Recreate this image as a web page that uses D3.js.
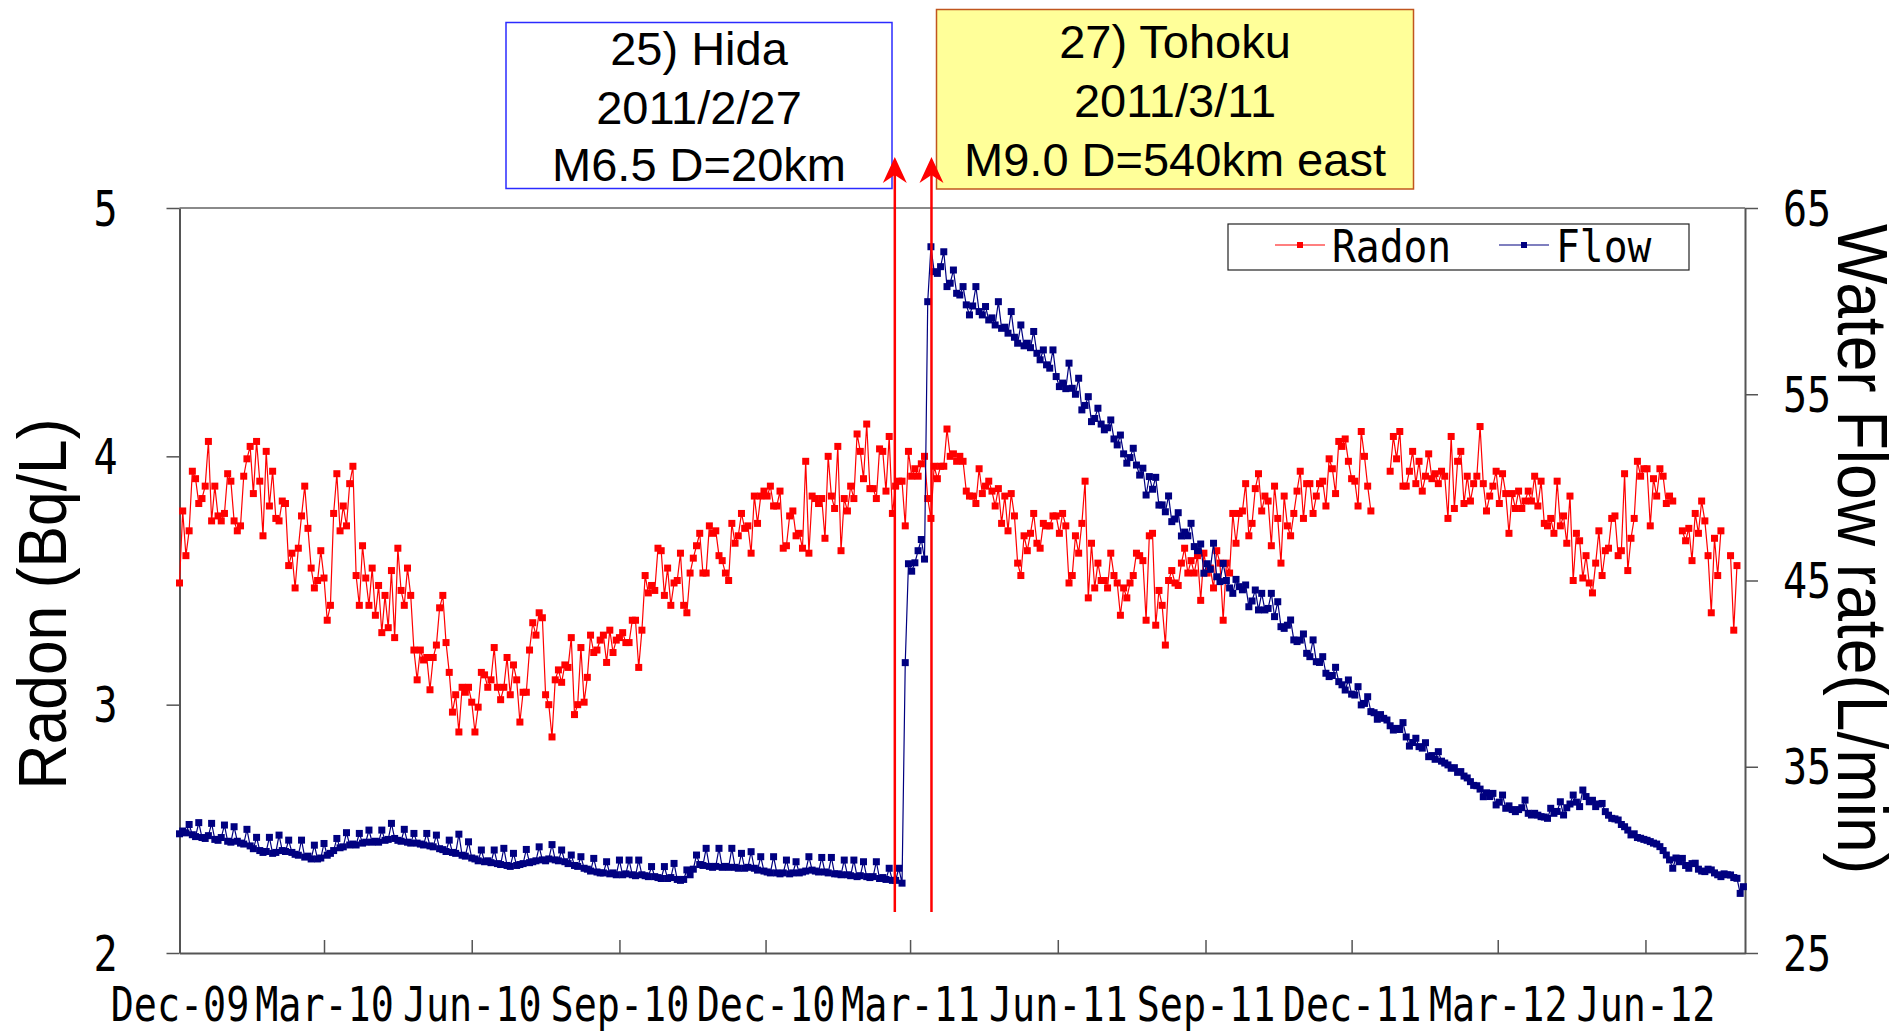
<!DOCTYPE html>
<html>
<head>
<meta charset="utf-8">
<script src="https://cdn.jsdelivr.net/npm/d3@7"></script>
<style>
html, body { margin:0; padding:0; background:#fff; }
svg { display:block; }
</style>
</head>
<body>
<div id="chart"></div>
<script>

// ---- data (one reading every 2 days starting 2009-12-01) ----
var startDate = "2009-12-01";
var stepDays = 2;

var radon = [
3.49,3.78,3.60,3.70,3.94,3.91,3.81,3.83,3.88,4.06,
3.74,3.88,3.76,3.74,3.77,3.93,3.90,3.74,3.70,3.72,
3.92,3.99,4.04,3.85,4.06,3.90,3.68,4.02,3.80,3.94,
3.75,3.74,3.82,3.81,3.56,3.61,3.47,3.63,3.76,3.88,
3.71,3.55,3.47,3.50,3.62,3.51,3.34,3.40,3.77,3.93,
3.70,3.80,3.72,3.89,3.96,3.52,3.40,3.64,3.51,3.40,
3.55,3.36,3.48,3.29,3.44,3.31,3.54,3.27,3.63,3.46,
3.40,3.55,3.44,3.22,3.10,3.22,3.18,3.19,3.06,3.19,
3.24,3.39,
3.44,3.25,3.13,2.97,3.04,2.89,3.07,3.05,3.07,3.01,
2.89,2.99,3.13,3.12,3.07,3.10,3.23,3.07,3.02,3.07,
3.19,3.04,3.16,3.10,2.93,3.05,3.05,3.22,3.33,3.28,
3.37,3.35,3.04,3.00,2.87,3.10,3.14,3.09,3.16,3.15,
3.27,2.96,3.00,3.23,3.01,3.11,3.28,3.21,3.22,3.26,
3.28,3.17,3.30,3.21,3.26,3.27,3.29,3.25,3.25,3.34,
3.34,3.15,3.30,3.52,3.45,3.48,3.46,3.63,3.62,3.44,
3.55,3.40,3.49,3.50,3.61,3.40,3.37,3.53,3.59,3.64,
3.69,3.53,
3.53,3.72,3.69,3.70,3.60,3.58,3.53,3.50,3.73,3.65,
3.68,3.77,3.71,3.72,3.61,3.84,3.73,3.84,3.86,3.84,
3.88,3.80,3.80,3.86,3.63,3.64,3.76,3.78,3.68,3.69,
3.63,3.98,3.61,3.84,3.83,3.81,3.83,3.67,4.00,3.84,
3.79,4.04,3.62,3.83,3.78,3.88,3.83,4.09,4.02,3.91,
4.13,3.87,3.87,3.83,4.03,4.02,3.86,4.08,3.77,3.88,
3.90,3.90,3.72,4.02,3.92,3.95,3.92,3.97,4.00,3.83,
3.75,3.96,3.91,3.96,3.96,4.11,4.00,4.01,3.98,4.00,
3.98,3.86,3.84,
3.84,3.81,3.95,3.85,3.88,3.90,3.86,3.80,3.87,3.73,
3.84,3.70,3.85,3.76,3.57,3.52,3.68,3.62,3.69,3.77,
3.65,3.63,3.73,3.72,3.72,3.76,3.76,3.69,3.77,3.72,
3.49,3.52,3.68,3.61,3.73,3.90,3.43,3.65,3.47,3.57,
3.50,3.50,3.47,3.61,3.52,3.49,3.36,3.47,3.43,3.49,
3.52,3.61,3.60,3.58,3.34,3.68,3.69,3.32,3.46,3.40,
3.24,3.50,3.54,3.49,3.48,3.57,3.63,3.53,3.58,3.53,
3.60,3.42,3.61,3.53,3.55,3.47,3.62,3.57,3.34,3.57,
3.53,3.77,
3.65,3.77,3.78,3.89,3.68,3.73,3.87,3.93,3.78,3.84,
3.82,3.64,3.88,3.75,3.57,3.84,3.72,3.68,3.77,3.86,
3.94,3.75,3.89,3.89,3.77,3.84,3.89,3.90,3.80,3.99,
3.95,3.85,4.06,4.04,4.07,3.98,3.91,3.90,3.80,4.10,
4.00,3.88,3.78,null,null,null,null,null,3.94,4.08,
3.99,4.10,3.88,3.88,3.94,4.02,3.89,3.98,3.86,3.92,
4.01,3.91,3.93,3.89,3.94,3.92,3.75,4.08,3.79,3.98,
4.02,3.81,3.92,3.82,3.89,3.92,4.12,3.89,3.78,3.84,
3.88,3.94,3.81,
3.93,3.85,3.69,3.85,3.79,3.86,3.79,3.82,3.86,3.82,
3.92,3.80,3.90,3.73,3.72,3.75,3.69,3.90,3.72,3.76,
3.65,3.84,3.50,3.69,3.66,3.51,3.60,3.49,3.45,3.57,
3.70,3.52,3.62,3.63,3.75,3.76,3.60,3.62,3.93,3.54,
3.67,3.75,3.98,3.92,3.95,3.95,3.72,3.91,3.84,3.95,
3.92,3.81,3.84,3.82,null,null,3.70,3.66,3.71,3.58,
3.77,3.69,3.82,3.74,3.60,3.37,3.67,3.52,3.70,null,
null,3.60,3.30,3.56,null,null
];

var flow = [
31.40,31.55,31.45,31.90,31.35,31.25,32.00,31.20,31.15,31.30,
31.96,31.10,31.05,31.20,31.87,31.00,30.95,31.78,31.00,30.90,
30.85,31.64,30.75,30.60,31.21,30.50,30.40,30.45,31.21,30.35,
30.40,31.33,30.50,30.45,31.06,30.40,30.30,30.25,31.06,30.15,
30.20,30.05,30.79,30.05,30.10,30.88,30.25,30.35,30.50,31.15,
30.65,30.70,31.46,30.80,30.85,30.80,31.42,30.90,30.95,31.60,
30.95,31.00,30.95,31.60,31.05,31.10,31.96,31.15,31.05,31.00,
31.64,30.95,30.90,31.42,30.90,30.85,30.80,31.42,30.75,30.70,
31.33,30.60,30.55,30.45,31.06,30.40,30.35,31.38,30.25,30.20,
30.97,30.10,30.05,29.95,30.53,29.90,29.95,29.85,30.53,29.80,
29.75,30.62,29.70,29.65,30.35,29.70,29.75,29.80,30.56,29.85,
29.90,29.95,30.70,30.00,29.95,30.05,30.82,30.00,29.95,30.53,
29.90,29.80,30.26,29.70,29.65,30.17,29.55,29.50,29.40,30.08,
29.35,29.30,29.30,29.90,29.25,29.30,29.20,29.99,29.20,29.25,
29.99,29.20,29.15,29.99,29.20,29.15,29.10,29.64,29.10,29.05,
29.00,29.64,29.00,29.05,29.81,28.95,28.90,28.95,29.46,29.20,
29.50,30.26,29.75,29.70,30.62,29.65,29.60,29.65,30.62,29.60,
29.65,29.60,30.62,29.60,29.55,30.35,29.55,29.60,30.44,29.55,
29.45,30.17,29.40,29.35,29.30,30.17,29.30,29.25,29.30,29.99,
29.25,29.30,29.90,29.30,29.35,29.40,30.17,29.45,29.40,29.35,
30.13,29.35,29.30,30.13,29.25,29.25,29.20,29.99,29.20,29.15,
29.99,29.10,29.15,29.90,29.10,29.05,29.10,29.90,29.00,29.05,
28.95,29.55,28.90,28.90,29.55,28.75,40.59,45.90,45.50,45.95,
46.60,47.20,46.15,59.97,62.92,61.58,61.49,61.85,62.65,60.78,
60.96,61.67,60.42,60.33,60.78,59.80,59.26,59.74,60.78,59.44,
59.26,59.71,58.99,59.10,58.72,59.97,58.54,58.60,58.28,59.44,
58.06,57.74,58.72,57.60,57.74,57.50,58.37,57.20,56.85,57.38,
56.58,56.40,57.38,55.95,55.41,55.60,55.30,56.67,55.32,55.00,
55.86,54.16,54.40,54.87,53.53,53.70,54.25,53.40,53.09,53.20,
53.62,52.60,52.28,52.81,51.80,51.30,51.60,52.10,51.20,50.66,
51.03,49.59,50.58,49.90,50.54,49.05,49.06,48.69,49.54,48.16,
48.30,48.64,47.39,47.60,47.40,48.07,46.82,46.60,46.96,45.39,
45.90,45.60,47.00,45.20,44.94,45.92,45.00,44.60,44.31,45.06,
44.67,44.50,44.76,43.59,43.90,44.49,43.42,44.31,43.42,43.50,
44.31,43.06,43.86,42.52,42.43,42.60,42.88,41.81,41.72,41.80,
42.13,41.09,40.91,41.81,40.64,40.60,40.91,40.02,39.84,39.90,
40.34,39.57,39.40,39.12,39.66,38.90,38.85,39.30,38.32,38.40,
38.76,37.96,37.90,37.55,37.80,37.60,37.51,37.20,36.97,37.06,
37.00,37.37,36.60,36.11,36.30,36.53,36.08,36.00,36.29,35.54,
35.60,35.40,35.81,35.30,35.20,35.10,34.92,34.95,34.70,34.74,
34.50,34.40,34.20,34.00,33.98,33.80,33.39,33.60,33.40,33.57,
32.95,33.10,33.48,32.77,32.90,32.70,32.59,32.70,32.80,33.21,
32.50,32.41,32.50,32.40,32.32,32.30,32.23,32.77,32.50,32.60,
33.12,32.41,32.80,33.00,33.48,33.10,32.86,33.75,33.40,33.12,
33.20,32.86,33.00,33.03,32.59,32.40,32.23,32.20,32.14,31.90,
31.78,31.60,31.34,31.40,31.20,31.16,31.10,31.05,30.98,30.90,
30.85,30.71,30.50,30.26,30.00,29.55,30.10,29.90,30.08,29.70,
29.55,29.80,29.82,29.50,29.40,29.37,29.50,29.46,29.30,29.20,
29.10,29.25,29.20,29.19,29.05,29.01,28.20,28.56
];

var xDomain = ["2009-12-01", "2012-08-02"];
var tickDates = ["2009-12-01","2010-03-01","2010-06-01","2010-09-01","2010-12-01","2011-03-01",
                 "2011-06-01","2011-09-01","2011-12-01","2012-03-01","2012-06-01"];
var tickLabels = ["Dec-09","Mar-10","Jun-10","Sep-10","Dec-10","Mar-11",
                  "Jun-11","Sep-11","Dec-11","Mar-12","Jun-12"];
var radonTicks = [2, 3, 4, 5];
var flowTicks = [25, 35, 45, 55, 65];
var seriesNames = ["Radon", "Flow"];
var seriesColors = ["#ff0000", "#000080"];

var eventLines = [
    ["25) Hida", "2011/2/27", "M6.5 D=20km"],
    ["27) Tohoku", "2011/3/11", "M9.0 D=540km east"]
];
var arrowDates = ["2011-02-19T12:00:00Z", "2011-03-14T08:00:00Z"];


// ---- layout ----
var W = 1903, H = 1033;
var plot = { left:179.5, right:1745, top:208, bottom:953 };
var monoFont = "'DejaVu Sans Mono', monospace";
var sansFont = "'Liberation Sans', Arial, sans-serif";
var narrow = 0.8;   // horizontal squeeze for the half-width axis font

var svg = d3.select("#chart").append("svg")
    .attr("width", W)
    .attr("height", H)
    .style("background", "#fff");

var parse = function(s){ return new Date(s.length == 10 ? s + "T00:00:00Z" : s); };
var t0 = parse(startDate);
var dateAt = function(i){ return d3.utcDay.offset(t0, i * stepDays); };

var x = d3.scaleUtc()
    .domain(xDomain.map(parse))
    .range([plot.left, plot.right]);
var yRadon = d3.scaleLinear().domain([2, 5]).range([plot.bottom, plot.top]);
var yFlow = d3.scaleLinear().domain([25, 65]).range([plot.bottom, plot.top]);

var radonPts = radon.map(function(v, i){ return { d:dateAt(i), v:v }; });
var flowPts = flow.map(function(v, i){ return { d:dateAt(i), v:v }; });


// ---- axes ----
var axisColor = "#555";

var styleAxis = function(g, size){
    g.select(".domain").attr("stroke", axisColor).attr("stroke-width", 2);
    g.selectAll(".tick line").attr("stroke", axisColor).attr("stroke-width", 1.5);
    g.selectAll(".tick text")
        .attr("fill", "#000")
        .style("font-family", monoFont)
        .style("font-size", size + "px");
};

// top frame line
svg.append("line")
    .attr("x1", plot.left).attr("x2", plot.right)
    .attr("y1", plot.top).attr("y2", plot.top)
    .attr("stroke", "#8a8a8a").attr("stroke-width", 2);

var gLeft = svg.append("g")
    .attr("transform", "translate(" + plot.left + ",0)")
    .call(d3.axisLeft(yRadon).tickValues(radonTicks).tickFormat(d3.format("d"))
        .tickSize(13).tickSizeOuter(0));
styleAxis(gLeft, 50);
gLeft.selectAll(".tick text")
    .attr("x", -62 / narrow)
    .attr("dy", "0.34em")
    .attr("transform", "scale(" + narrow + ",1)");

var gRight = svg.append("g")
    .attr("transform", "translate(" + plot.right + ",0)")
    .call(d3.axisRight(yFlow).tickValues(flowTicks).tickFormat(d3.format("d"))
        .tickSize(13).tickSizeOuter(0));
styleAxis(gRight, 50);
gRight.selectAll(".tick text")
    .attr("x", 38 / narrow)
    .attr("dy", "0.34em")
    .attr("transform", "scale(" + narrow + ",1)");

var gBottom = svg.append("g")
    .attr("transform", "translate(0," + plot.bottom + ")")
    .call(d3.axisBottom(x)
        .tickValues(tickDates.map(parse))
        .tickSizeInner(-13)
        .tickSizeOuter(0)
        .tickFormat(function(d, i){ return tickLabels[i]; }));
styleAxis(gBottom, 48);
gBottom.selectAll(".tick text")
    .attr("y", 68).attr("dy", null)
    .attr("transform", "scale(" + narrow + ",1)");

// axis titles
svg.append("text")
    .attr("transform", "translate(66," + 604 + ") rotate(-90)")
    .attr("text-anchor", "middle")
    .style("font-family", sansFont)
    .style("font-size", "68px")
    .attr("textLength", 371)
    .attr("lengthAdjust", "spacingAndGlyphs")
    .text("Radon (Bq/L)");

svg.append("text")
    .attr("transform", "translate(1838," + 549 + ") rotate(90)")
    .attr("text-anchor", "middle")
    .style("font-family", sansFont)
    .style("font-size", "70px")
    .attr("textLength", 650)
    .attr("lengthAdjust", "spacingAndGlyphs")
    .text("Water Flow rate(L/min)");


// ---- series ----
var drawSeries = function(pts, yScale, color){
    var g = svg.append("g");
    var line = d3.line()
        .defined(function(p){ return p.v != null; })
        .x(function(p){ return x(p.d); })
        .y(function(p){ return yScale(p.v); });
    g.append("path")
        .datum(pts)
        .attr("d", line)
        .attr("fill", "none")
        .attr("stroke", color)
        .attr("stroke-width", 1.2);
    g.selectAll("rect")
        .data(pts.filter(function(p){ return p.v != null; }))
        .enter().append("rect")
        .attr("x", function(p){ return x(p.d) - 3.5; })
        .attr("y", function(p){ return yScale(p.v) - 3.5; })
        .attr("width", 7)
        .attr("height", 7)
        .attr("fill", color);
};

drawSeries(radonPts, yRadon, seriesColors[0]);
drawSeries(flowPts, yFlow, seriesColors[1]);


// ---- legend ----
var legendSqueeze = 0.9;
var lg = svg.append("g").attr("transform", "translate(1228,224)");
lg.append("rect")
    .attr("width", 461).attr("height", 46)
    .attr("fill", "#fff").attr("stroke", "#222").attr("stroke-width", 1.2);
var legendX = [[47, 104], [271, 328]];
seriesNames.forEach(function(name, i){
    var lx = legendX[i][0];
    lg.append("line")
        .attr("x1", lx).attr("x2", lx + 50)
        .attr("y1", 21).attr("y2", 21)
        .attr("stroke", seriesColors[i]).attr("stroke-width", 1.2);
    lg.append("rect")
        .attr("x", lx + 22).attr("y", 18)
        .attr("width", 6).attr("height", 6)
        .attr("fill", seriesColors[i]);
    lg.append("text")
        .attr("x", legendX[i][1] / legendSqueeze).attr("y", 38)
        .attr("transform", "scale(" + legendSqueeze + ",1)")
        .style("font-family", monoFont)
        .style("font-size", "44px")
        .text(name);
});


// ---- event boxes and arrows ----
var boxes = [
    { x:506, y:22.5, w:386, h:166, fill:"#fff", stroke:"#2b2bff", baseline:[65, 124, 181] },
    { x:936.5, y:9.5, w:477, h:179.5, fill:"#ffff99", stroke:"#c0561e", baseline:[58, 117, 176] }
];

boxes.forEach(function(b, i){
    var g = svg.append("g");
    g.append("rect")
        .attr("x", b.x).attr("y", b.y)
        .attr("width", b.w).attr("height", b.h)
        .attr("fill", b.fill)
        .attr("stroke", b.stroke)
        .attr("stroke-width", 1.5);
    eventLines[i].forEach(function(t, j){
        g.append("text")
            .attr("x", b.x + b.w / 2)
            .attr("y", b.baseline[j])
            .attr("text-anchor", "middle")
            .style("font-family", sansFont)
            .style("font-size", "47px")
            .text(t);
    });
});

arrowDates.forEach(function(s){
    var ax = x(parse(s)), tip = plot.top - 51, end = yRadon(2.165);
    svg.append("line")
        .attr("x1", ax).attr("x2", ax)
        .attr("y1", end).attr("y2", tip + 8)
        .attr("stroke", "#ff0000").attr("stroke-width", 2.5);
    svg.append("path")
        .attr("d", "M" + ax + "," + tip +
                   "L" + (ax + 12) + "," + (tip + 26) +
                   "L" + ax + "," + (tip + 18) +
                   "L" + (ax - 12) + "," + (tip + 26) + "Z")
        .attr("fill", "#ff0000");
});

</script>
</body>
</html>
